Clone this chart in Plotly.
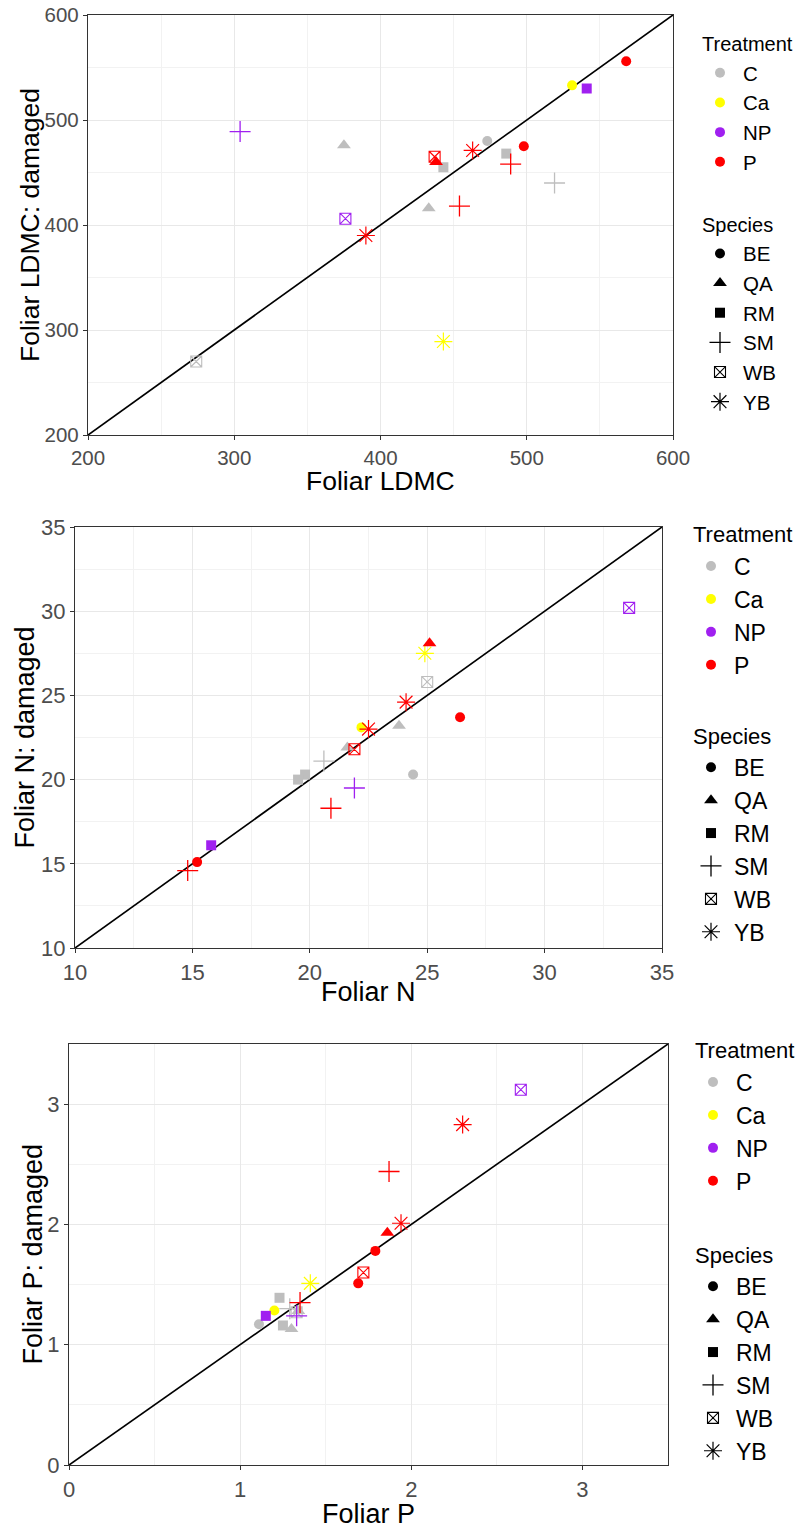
import plotly.graph_objects as go

# Legend levels and colours
treatments = ["C", "Ca", "NP", "P"]
treatment_colors = ["#BEBEBE", "#FFFF00", "#A020F0", "#FF0000"]
species = ["BE", "QA", "RM", "SM", "WB", "YB"]

# Foliar LDMC: undamaged (x) vs damaged (y)
ldmc_treatment = ["C", "C", "C", "C", "C", "C", "C", "Ca", "Ca", "NP", "NP", "NP",
                  "P", "P", "P", "P", "P", "P", "P", "P"]
ldmc_species = ["BE", "QA", "QA", "RM", "RM", "SM", "WB", "BE", "YB", "RM", "SM", "WB",
                "BE", "BE", "YB", "WB", "QA", "SM", "SM", "YB"]
ldmc_x = [473, 375, 433, 486, 443, 519, 274, 531, 443, 541, 304, 376,
          568, 498, 463, 437, 438, 489, 454, 390]
ldmc_y = [480, 476, 416, 468, 455, 440, 270, 533, 289, 530, 489, 406,
          556, 475, 471, 465, 460, 458, 418, 390]

# Foliar N: undamaged (x) vs damaged (y)
n_treatment = ["C", "C", "C", "C", "C", "C", "C", "Ca", "Ca", "NP", "NP", "NP",
               "P", "P", "P", "P", "P", "P", "P", "P"]
n_species = ["BE", "QA", "QA", "RM", "RM", "SM", "WB", "BE", "YB", "RM", "SM", "WB",
             "BE", "BE", "YB", "WB", "QA", "SM", "SM", "YB"]
n_x = [24.4, 23.8, 21.6, 19.8, 19.5, 20.6, 25.0, 22.2, 24.9, 15.8, 21.9, 33.6,
       26.4, 15.2, 24.1, 21.9, 25.1, 20.9, 14.8, 22.5]
n_y = [20.3, 23.2, 21.9, 20.3, 20.0, 21.1, 25.8, 23.1, 27.5, 16.1, 19.5, 30.2,
       23.7, 15.1, 24.6, 21.8, 28.1, 18.3, 14.6, 23.0]

# Foliar P: undamaged (x) vs damaged (y)
p_treatment = ["C", "C", "C", "C", "C", "C", "C", "Ca", "Ca", "NP", "NP", "NP",
               "P", "P", "P", "P", "P", "P", "P", "P"]
p_species = ["BE", "QA", "QA", "RM", "RM", "SM", "WB", "BE", "YB", "RM", "SM", "WB",
             "BE", "BE", "YB", "WB", "QA", "SM", "SM", "YB"]
p_x = [1.11, 1.30, 1.34, 1.23, 1.25, 1.29, 1.33, 1.20, 1.41, 1.15, 1.33, 2.64,
       1.79, 1.69, 2.30, 1.72, 1.86, 1.87, 1.35, 1.94]
p_y = [1.17, 1.13, 1.28, 1.39, 1.16, 1.30, 1.27, 1.285, 1.51, 1.24, 1.24, 3.12,
       1.78, 1.51, 2.83, 1.60, 1.93, 2.44, 1.35, 2.01]

# Axis settings per panel
ldmc_range, ldmc_ticks = [200, 600], [200, 300, 400, 500, 600]
n_range, n_ticks = [10, 35], [10, 15, 20, 25, 30, 35]
p_range, p_ticks = [0, 3.5], [0, 1, 2, 3]

FONT = "Liberation Sans, Arial, sans-serif"
W, H = 801, 1531

# Shape for each species (ggplot shapes 16, 17, 15, 3, 7, 8)
SYMBOL = {"BE": "circle", "QA": "triangle-up", "RM": "square",
          "SM": "cross-thin-open", "WB": "square-x-open", "YB": "asterisk-open"}
SIZE = {"BE": 10, "QA": 12, "RM": 10, "SM": 15, "WB": 11, "YB": 15}
LINEW = {"BE": 0, "QA": 0, "RM": 0, "SM": 1.3, "WB": 1.1, "YB": 1.2}

fig = go.Figure()

panels = [
    dict(tr=ldmc_treatment, sp=ldmc_species, x=ldmc_x, y=ldmc_y, rng=ldmc_range, ticks=ldmc_ticks,
         minor=50, px=(88, 673), py=(15, 435), xtitle="Foliar LDMC", ytitle="Foliar LDMC: damaged",
         xt_off=46, yt_off=58, tick_fs=20.5, title_fs=26.5,
         leg_x=697, leg_top=24, leg_title_fs=20, leg_fs=20.5, leg_gap=33),
    dict(tr=n_treatment, sp=n_species, x=n_x, y=n_y, rng=n_range, ticks=n_ticks,
         minor=2.5, px=(75, 662), py=(527, 948), xtitle="Foliar N", ytitle="Foliar N: damaged",
         xt_off=44, yt_off=50, tick_fs=22, title_fs=27,
         leg_x=688, leg_top=513, leg_title_fs=22, leg_fs=23, leg_gap=38),
    dict(tr=p_treatment, sp=p_species, x=p_x, y=p_y, rng=p_range, ticks=p_ticks,
         minor=0.5, px=(69, 668), py=(1044, 1465), xtitle="Foliar P", ytitle="Foliar P: damaged",
         xt_off=49, yt_off=37, tick_fs=22, title_fs=27,
         leg_x=690, leg_top=1029, leg_title_fs=22, leg_fs=23, leg_gap=41),
]

annotations = []

for i, pn in enumerate(panels):
    k = "" if i == 0 else str(i + 1)
    xa, ya = "x" + k, "y" + k
    leg = "legend" + k
    xd = [pn["px"][0] / W, pn["px"][1] / W]
    yd = [(H - pn["py"][1]) / H, (H - pn["py"][0]) / H]

    # 1:1 reference line
    fig.add_trace(go.Scatter(x=pn["rng"], y=pn["rng"], mode="lines", xaxis=xa, yaxis=ya,
                             line=dict(color="black", width=1.7), showlegend=False,
                             hoverinfo="skip"))

    # points, one trace per treatment
    for t, col in zip(treatments, treatment_colors):
        idx = [j for j, v in enumerate(pn["tr"]) if v == t]
        sps = [pn["sp"][j] for j in idx]
        fig.add_trace(go.Scatter(
            x=[pn["x"][j] for j in idx], y=[pn["y"][j] for j in idx],
            mode="markers", xaxis=xa, yaxis=ya, showlegend=False, name=t,
            marker=dict(color=col, opacity=1, symbol=[SYMBOL[s] for s in sps],
                        size=[SIZE[s] for s in sps],
                        line=dict(color=col, width=[LINEW[s] for s in sps]))))

    gt_font = dict(size=pn["leg_title_fs"], color="black", family=FONT)
    # legend keys: treatment colours
    for n, (t, col) in enumerate(zip(treatments, treatment_colors)):
        fig.add_trace(go.Scatter(
            x=[None], y=[None], mode="markers", xaxis=xa, yaxis=ya, name=t, legend=leg,
            legendgroup="treat" + k,
            legendgrouptitle=dict(text="Treatment", font=gt_font) if n == 0 else None,
            marker=dict(color=col, symbol="circle", size=10, opacity=1)))
    # legend keys: species shapes
    for n, s in enumerate(species):
        fig.add_trace(go.Scatter(
            x=[None], y=[None], mode="markers", xaxis=xa, yaxis=ya, name=s, legend=leg,
            legendgroup="spec" + k,
            legendgrouptitle=dict(text="Species", font=gt_font) if n == 0 else None,
            marker=dict(color="black", symbol=SYMBOL[s], size=SIZE[s], opacity=1,
                        line=dict(color="black", width=LINEW[s]))))

    axis_common = dict(range=pn["rng"], tickvals=pn["ticks"], showline=True, mirror=True,
                       automargin=False, linecolor="#333333", linewidth=1.3, ticks="outside",
                       ticklen=4, tickcolor="#333333", tickwidth=1.3, showgrid=True,
                       gridcolor="#E8E8E8", gridwidth=1.4, zeroline=False,
                       tickfont=dict(size=pn["tick_fs"], color="#4D4D4D", family=FONT),
                       minor=dict(dtick=pn["minor"], tick0=pn["rng"][0], showgrid=True,
                                  gridcolor="#F2F2F2", gridwidth=1, ticks=""))
    fig.update_layout({
        "xaxis" + k: dict(domain=xd, anchor=ya, **axis_common),
        "yaxis" + k: dict(domain=yd, anchor=xa, **axis_common),
        leg: dict(x=pn["leg_x"] / W, xanchor="left", y=1 - pn["leg_top"] / H, yanchor="top",
                  font=dict(size=pn["leg_fs"], color="black", family=FONT),
                  tracegroupgap=pn["leg_gap"], bgcolor="rgba(0,0,0,0)", itemwidth=36),
    })

    # axis titles
    annotations.append(dict(text=pn["xtitle"], x=(xd[0] + xd[1]) / 2, y=yd[0] - pn["xt_off"] / H,
                            xref="paper", yref="paper", xanchor="center", yanchor="middle",
                            showarrow=False, font=dict(size=pn["title_fs"], color="black", family=FONT)))
    annotations.append(dict(text=pn["ytitle"], x=xd[0] - pn["yt_off"] / W, y=(yd[0] + yd[1]) / 2,
                            xref="paper", yref="paper", xanchor="center", yanchor="middle",
                            showarrow=False, textangle=-90,
                            font=dict(size=pn["title_fs"], color="black", family=FONT)))

fig.update_layout(width=W, height=H, margin=dict(l=0, r=0, t=0, b=0, autoexpand=False),
                  paper_bgcolor="white", plot_bgcolor="white", annotations=annotations,
                  font=dict(family=FONT))

fig.write_html("out.html")
